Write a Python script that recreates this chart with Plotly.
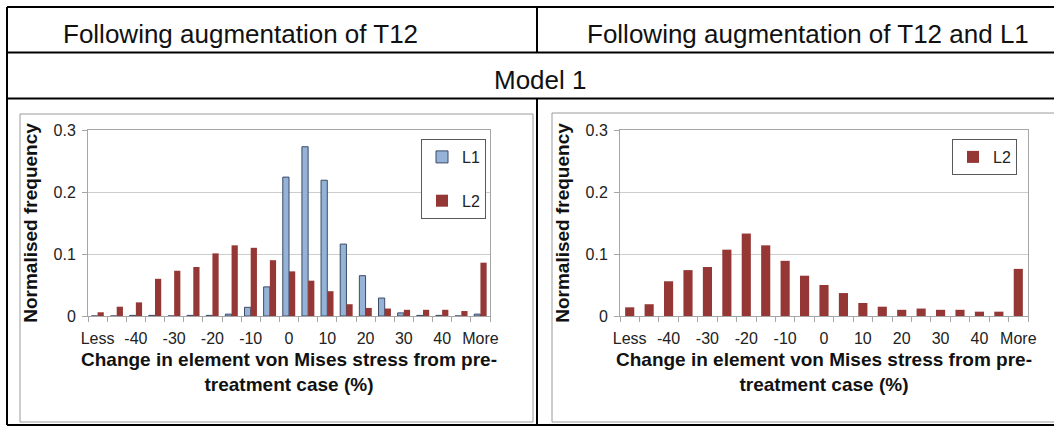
import plotly.graph_objects as go

# ---------------- data ----------------
categories = ["Less", "-45", "-40", "-35", "-30", "-25", "-20", "-15", "-10", "-5",
              "0", "5", "10", "15", "20", "25", "30", "35", "40", "45", "More"]
tick_labels = ["Less", "", "-40", "", "-30", "", "-20", "", "-10", "",
               "0", "", "10", "", "20", "", "30", "", "40", "", "More"]

# Left panel: following augmentation of T12
t12_L1 = [0.000, 0.000, 0.001, 0.001, 0.000, 0.001, 0.001, 0.003, 0.014, 0.047,
          0.224, 0.273, 0.219, 0.116, 0.065, 0.029, 0.005, 0.001, 0.001, 0.000, 0.003]
t12_L2 = [0.006, 0.015, 0.022, 0.060, 0.073, 0.079, 0.101, 0.114, 0.110, 0.090,
          0.072, 0.057, 0.040, 0.019, 0.013, 0.012, 0.010, 0.010, 0.010, 0.008, 0.086]

# Right panel: following augmentation of T12 and L1
t12l1_L2 = [0.014, 0.019, 0.056, 0.074, 0.079, 0.107, 0.133, 0.114, 0.089, 0.065,
            0.050, 0.037, 0.021, 0.015, 0.010, 0.012, 0.010, 0.010, 0.007, 0.007, 0.076]

y_ticks = [0, 0.1, 0.2, 0.3]
y_ticktext = ["0", "0.1", "0.2", "0.3"]

header_left = "Following augmentation of T12"
header_right = "Following augmentation of T12 and L1"
row_label = "Model 1"
x_title = "Change in element von Mises stress from pre-<br>treatment case (%)"
y_title = "Normalised frequency"

# ---------------- styling ----------------
W, H = 1054, 427
FONT = "Liberation Sans, Arial, Helvetica, sans-serif"
BLUE = "#95B3D7"
BLUE_EDGE = "#3B4A66"
RED = "#953735"
GRID = "#cdcdcd"
AXIS = "#a6a6a6"


def px(x):
    return x / W


def py(y):
    return 1 - y / H


fig = go.Figure()

fig.add_trace(go.Bar(x=categories, y=t12_L1, name="L1", xaxis="x", yaxis="y",
                     marker=dict(color=BLUE, line=dict(color=BLUE_EDGE, width=1)),
                     legend="legend", legendgroup="a"))
fig.add_trace(go.Bar(x=categories, y=t12_L2, name="L2", xaxis="x", yaxis="y",
                     marker=dict(color=RED, line=dict(width=0)),
                     legend="legend", legendgroup="b"))
fig.add_trace(go.Bar(x=categories, y=t12l1_L2, name="L2", xaxis="x2", yaxis="y2",
                     width=0.47,
                     marker=dict(color=RED, line=dict(width=0)),
                     legend="legend2"))

axis_common_x = dict(
    type="category", categoryorder="array", categoryarray=categories,
    tickmode="array", tickvals=categories, ticktext=tick_labels, tickangle=0,
    tickson="boundaries", ticks="outside", ticklen=5, tickcolor=AXIS,
    ticklabelstandoff=8,
    showline=True, linecolor=AXIS, linewidth=1, mirror=True,
    showgrid=False, zeroline=False, automargin=False,
    tickfont=dict(family=FONT, size=16, color="#222"),
    title=dict(text=x_title, font=dict(family=FONT, size=19, color="#111", weight="bold"),
               standoff=6),
    fixedrange=True,
)
axis_common_y = dict(
    range=[0, 0.3], tickmode="array", tickvals=y_ticks, ticktext=y_ticktext,
    ticks="outside", ticklen=5, tickcolor=AXIS, ticklabelstandoff=3,
    showline=True, linecolor=AXIS, linewidth=1, mirror=True,
    showgrid=True, gridcolor=GRID, gridwidth=1, zeroline=False, automargin=False,
    tickfont=dict(family=FONT, size=16, color="#222"),
    title=dict(text=y_title, font=dict(family=FONT, size=19, color="#111", weight="bold"),
               standoff=10),
    fixedrange=True,
)

shapes = []
# table lines
black = dict(color="black", width=2)
for (x0, y0, x1, y1) in [
    (7, 7, 1100, 7), (7, 52.5, 1100, 52.5), (7, 98.5, 1100, 98.5), (7, 425, 1100, 425),
    (7, 7, 7, 425), (537, 7, 537, 52.5), (537, 98.5, 537, 425),
]:
    shapes.append(dict(type="line", xref="paper", yref="paper",
                       x0=px(x0), y0=py(y0), x1=px(x1), y1=py(y1), line=black,
                       layer="above"))
# chart frames
for (x0, y0, x1, y1) in [(20, 114, 533, 422), (552, 113, 1100, 422)]:
    shapes.append(dict(type="rect", xref="paper", yref="paper",
                       x0=px(x0), y0=py(y0), x1=px(x1), y1=py(y1),
                       line=dict(color="#9a9a9a", width=1), layer="below"))

annotations = [
    dict(text=header_left, x=px(240), y=py(34), xref="paper", yref="paper",
         showarrow=False, xanchor="center", yanchor="middle",
         font=dict(family=FONT, size=26, color="#111")),
    dict(text=header_right, x=px(808), y=py(34), xref="paper", yref="paper",
         showarrow=False, xanchor="center", yanchor="middle",
         font=dict(family=FONT, size=26, color="#111")),
    dict(text=row_label, x=px(540), y=py(80), xref="paper", yref="paper",
         showarrow=False, xanchor="center", yanchor="middle",
         font=dict(family=FONT, size=26, color="#111")),
]

legend_common = dict(
    xanchor="left", yanchor="top", bgcolor="white",
    bordercolor="#595959", borderwidth=1,
    font=dict(family=FONT, size=16, color="#222"),
    tracegroupgap=20, itemclick=False, itemdoubleclick=False,
)

fig.update_layout(
    width=W, height=H, autosize=False,
    margin=dict(l=0, r=0, t=0, b=0, pad=0, autoexpand=False),
    paper_bgcolor="white", plot_bgcolor="white",
    barmode="group", bargap=0.35, bargroupgap=0.0,
    xaxis=dict(domain=[px(88), px(490)], anchor="y", **axis_common_x),
    yaxis=dict(domain=[py(316), py(130)], anchor="x", **axis_common_y),
    xaxis2=dict(domain=[px(620), px(1028)], anchor="y2", **axis_common_x),
    yaxis2=dict(domain=[py(316), py(130)], anchor="x2", **axis_common_y),
    legend=dict(x=px(421), y=py(139), **legend_common),
    legend2=dict(x=px(952), y=py(139), **legend_common),
    shapes=shapes,
    annotations=annotations,
    showlegend=True,
)

fig.write_html("out.html")
